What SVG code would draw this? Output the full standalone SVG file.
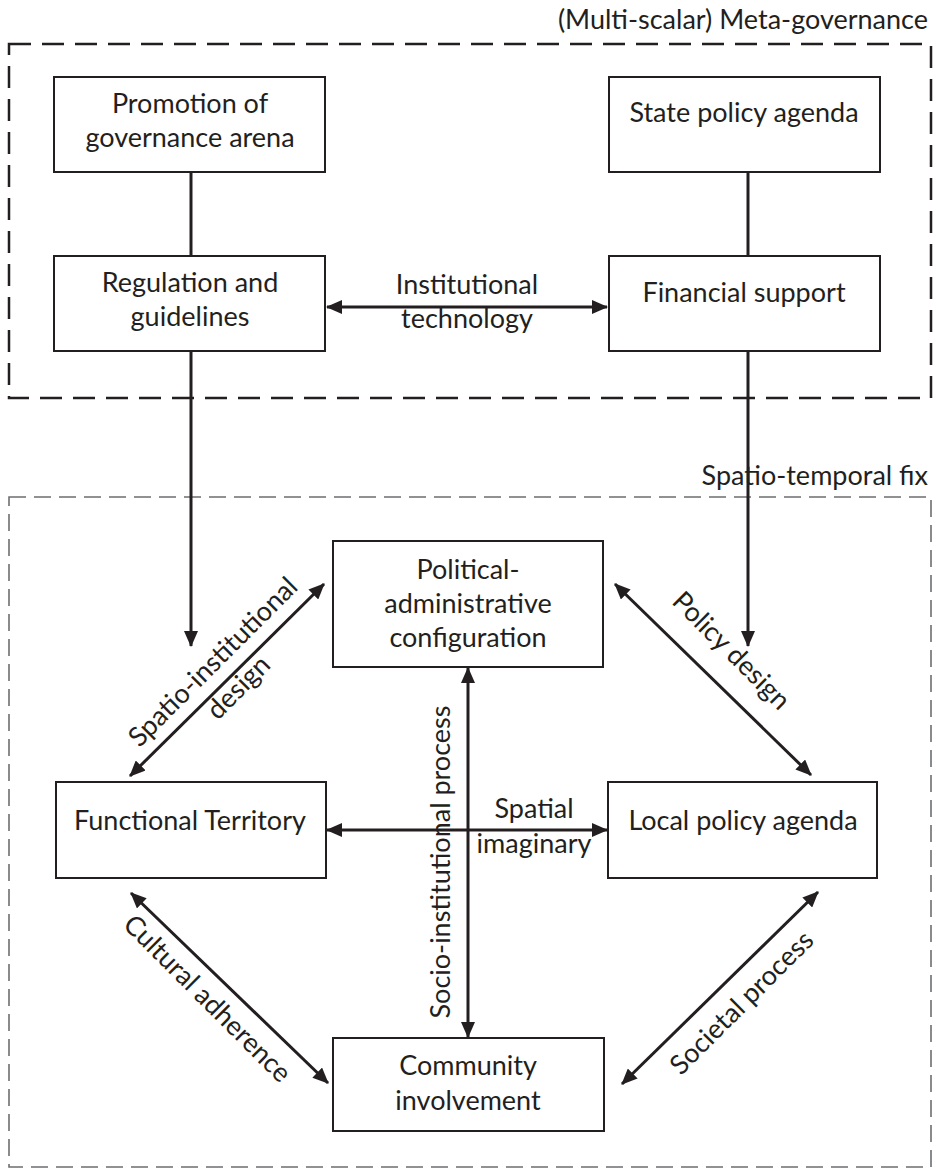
<svg xmlns="http://www.w3.org/2000/svg" width="937" height="1171" viewBox="0 0 937 1171">
<style>
text{font-family:Lato,"Open Sans","Liberation Sans",sans-serif;font-size:27px;fill:#231f20;text-anchor:middle}
.box{fill:#fff;stroke:#231f20;stroke-width:2}
.con{stroke:#231f20;stroke-width:3;fill:none}
.arr{marker-end:url(#ah)}
.dbl{marker-start:url(#ah);marker-end:url(#ah)}
.frame1{fill:none;stroke:#231f20;stroke-width:2.5;stroke-dasharray:22 11}
.frame2{fill:none;stroke:#6d6e71;stroke-width:1.6;stroke-dasharray:17 8}
</style>
<defs>
<marker id="ah" viewBox="0 0 16 14" refX="15" refY="7" markerWidth="16" markerHeight="14" markerUnits="userSpaceOnUse" orient="auto-start-reverse">
<path d="M0,0 L16,7 L0,14 z" fill="#231f20"/>
</marker>
</defs>
<rect width="937" height="1171" fill="#fff"/>
<g id="frame-meta">
<rect class="frame1" x="9" y="44" width="922" height="354"/>
<text x="928" y="29" style="text-anchor:end">(Multi-scalar) Meta-governance</text>
</g>
<g id="frame-fix">
<rect class="frame2" x="9" y="497" width="922" height="670"/>
<text x="928" y="485" style="text-anchor:end">Spatio-temporal fix</text>
</g>
<g id="connectors">
<line class="con" x1="191" y1="172" x2="191" y2="256"/>
<line class="con" x1="748" y1="172" x2="748" y2="256"/>
<line class="con dbl" x1="327" y1="307" x2="607" y2="307"/>
<line class="con arr" x1="191" y1="351" x2="191" y2="646"/>
<line class="con arr" x1="748" y1="351" x2="748" y2="646"/>
<line class="con dbl" x1="130" y1="776" x2="324" y2="584"/>
<line class="con dbl" x1="615" y1="584" x2="811" y2="775"/>
<line class="con dbl" x1="327" y1="830" x2="607" y2="830"/>
<line class="con dbl" x1="468" y1="668" x2="468" y2="1037"/>
<line class="con dbl" x1="131" y1="893" x2="328" y2="1083"/>
<line class="con dbl" x1="818" y1="892" x2="622" y2="1084"/>
<text x="467" y="294">Institutional</text>
<text x="467" y="328">technology</text>
<text x="534" y="818">Spatial</text>
<text x="534" y="853">imaginary</text>
<g transform="translate(225,674) rotate(-45)"><text x="0" y="-8">Spatio-institutional</text><text x="0" y="28">design</text></g>
<g transform="translate(732,650) rotate(45)"><text x="0" y="10">Policy design</text></g>
<g transform="translate(208,998) rotate(45)"><text x="0" y="10">Cultural adherence</text></g>
<g transform="translate(741,1002) rotate(-45)"><text x="0" y="10">Societal process</text></g>
<g transform="translate(440,862) rotate(-90)"><text x="0" y="10">Socio-institutional process</text></g>
</g>
<g id="n-promotion"><rect class="box" x="54" y="77" width="271" height="95"/><text x="190" y="113">Promotion of</text><text x="190" y="147">governance arena</text></g>
<g id="n-state"><rect class="box" x="609" y="77" width="271" height="95"/><text x="744" y="122">State policy agenda</text></g>
<g id="n-regulation"><rect class="box" x="54" y="256" width="271" height="95"/><text x="190" y="292">Regulation and</text><text x="190" y="326">guidelines</text></g>
<g id="n-financial"><rect class="box" x="609" y="256" width="271" height="95"/><text x="744" y="302">Financial support</text></g>
<g id="n-political"><rect class="box" x="333" y="541" width="270" height="126"/><text x="468" y="579">Political-</text><text x="468" y="613">administrative</text><text x="468" y="647">configuration</text></g>
<g id="n-functional"><rect class="box" x="56" y="782" width="270" height="96"/><text x="190" y="830">Functional Territory</text></g>
<g id="n-local"><rect class="box" x="608" y="782" width="269" height="96"/><text x="743" y="830">Local policy agenda</text></g>
<g id="n-community"><rect class="box" x="333" y="1038" width="271" height="93"/><text x="468" y="1075">Community</text><text x="468" y="1110">involvement</text></g>
</svg>
